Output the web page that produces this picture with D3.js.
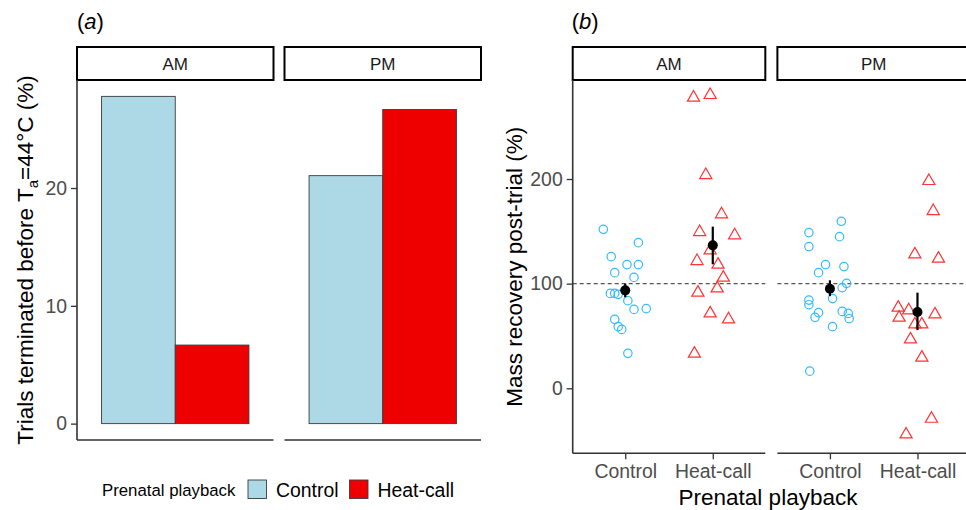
<!DOCTYPE html>
<html>
<head>
<meta charset="utf-8">
<script src="https://cdn.jsdelivr.net/npm/d3@7"></script>
<style>
  body { margin: 0; background: #fff; }
  svg { display: block; font-family: "Liberation Sans", Arial, sans-serif; }
</style>
</head>
<body>
<div id="chart"></div>
<script>
// Facets and groups
const timeOfDay = ["AM", "PM"];
const playback = ["Control", "Heat-call"];

// Panel (a): % of trials terminated before Ta = 44°C
const terminatedAM = [27.78, 6.67];
const terminatedPM = [21.05, 26.67];
const ticksA = [0, 10, 20];

// Panel (b): mass recovery post-trial (%), one value per chick, plus horizontal jitter (in category units)
const amControlMass = [151.9, 139.2, 125.8, 118.2, 118.2, 110.5, 106.0, 90.7, 90.7, 89.8, 83.7, 75.4, 76.1, 65.9, 58.9, 56.3, 33.4];
const amControlJitter = [-0.25, 0.15, -0.16, 0.02, 0.15, -0.12, 0.10, -0.17, -0.12, -0.08, 0.03, 0.10, 0.24, -0.12, -0.08, -0.04, 0.03];
const amHeatMass = [277.8, 280.3, 203.8, 166.3, 149.3, 146.2, 131.8, 121.6, 118.2, 105.7, 95.5, 91.4, 71.6, 65.9, 33.1];
const amHeatJitter = [-0.22, -0.03, -0.08, 0.10, -0.15, 0.25, -0.03, -0.18, 0.06, 0.12, 0.05, -0.17, -0.03, 0.18, -0.21];
const pmControlMass = [159.6, 148.8, 144.9, 135.4, 118.2, 110.5, 116.3, 100.3, 96.2, 85.7, 84.3, 79.9, 72.3, 67.8, 73.5, 71.6, 66.5, 58.9, 16.4];
const pmControlJitter = [0.13, -0.24, 0.11, -0.24, -0.05, -0.13, 0.16, 0.19, 0.14, 0.03, -0.24, -0.24, -0.13, -0.17, 0.14, 0.21, 0.22, 0.03, -0.23];
const pmHeatMass = [198.1, 169.4, 128.0, 123.9, 77.1, 74.5, 67.5, 70.6, 61.1, 61.1, 46.7, 29.3, -29.1, -44.1];
const pmHeatJitter = [0.13, 0.18, -0.03, 0.24, -0.22, -0.10, -0.21, 0.20, -0.03, 0.05, -0.08, 0.05, 0.16, -0.13];

// Means with error bars (AM Control, AM Heat-call, PM Control, PM Heat-call)
const meanMass = [93.6, 136.6, 95.2, 72.9];
const meanLow = [87.0, 118.5, 88.1, 55.6];
const meanHigh = [100.0, 154.5, 103.2, 91.4];
const ticksB = [0, 100, 200];

const fillColors = ["#ADD8E6", "#EE0000"];
const pointColors = ["#33BBFF", "#FF3333"];

const width = 966;
const height = 510;

const svg = d3.select("#chart")
    .append("svg")
    .attr("width", width)
    .attr("height", height);

const stripTop = 47, stripBottom = 80;

// ---------- Panel (a) ----------
const facetA = d3.scaleBand().domain(timeOfDay).range([77, 481]).paddingInner(0.053);
const yA = d3.scaleLinear().domain([-1.39, 29.17]).range([440, 80]);

const barsA = [terminatedAM, terminatedPM];

timeOfDay.forEach((tod, i) => {
    const x0 = facetA(tod);
    const bw = facetA.bandwidth();
    const g = svg.append("g");

    // strip
    g.append("rect")
        .attr("x", x0).attr("y", stripTop)
        .attr("width", bw).attr("height", stripBottom - stripTop)
        .attr("fill", "#fff").attr("stroke", "#000").attr("stroke-width", 2);
    g.append("text")
        .attr("x", x0 + bw / 2).attr("y", (stripTop + stripBottom) / 2 + 6)
        .attr("text-anchor", "middle").attr("font-size", 17).attr("fill", "#1a1a1a")
        .text(tod);

    const dodge = d3.scaleBand().domain(playback).range([x0, x0 + bw]).paddingInner(0).paddingOuter(1 / 3);

    g.selectAll("rect.bar")
        .data(barsA[i])
        .enter()
        .append("rect")
        .attr("class", "bar")
        .attr("x", (d, j) => dodge(playback[j]))
        .attr("width", dodge.bandwidth())
        .attr("y", d => yA(d))
        .attr("height", d => yA(0) - yA(d))
        .attr("fill", (d, j) => fillColors[j])
        .attr("stroke", "#3c3c3c")
        .attr("stroke-width", 0.9);

    // bottom axis line
    g.append("line")
        .attr("x1", x0).attr("x2", x0 + bw)
        .attr("y1", 440).attr("y2", 440)
        .attr("stroke", "#333").attr("stroke-width", 1.6);
});

// y axis for panel (a)
const axisA = svg.append("g")
    .attr("transform", `translate(${facetA("AM")},0)`)
    .call(d3.axisLeft(yA).tickValues(ticksA).tickSize(6).tickPadding(4));
axisA.select(".domain").attr("d", `M0,80V440`).attr("stroke", "#333").attr("stroke-width", 1.6);
axisA.selectAll(".tick line").attr("stroke", "#333").attr("stroke-width", 1.3);
axisA.selectAll(".tick text").attr("font-size", 19.4).attr("fill", "#4d4d4d")
    .attr("font-family", "'Liberation Sans', Arial, sans-serif");

// y title with subscript
const titleA = svg.append("text")
    .attr("transform", `translate(33,260) rotate(-90)`)
    .attr("text-anchor", "middle")
    .attr("font-size", 22.5)
    .attr("fill", "#000");
titleA.append("tspan").text("Trials terminated before T");
titleA.append("tspan").attr("font-size", 15).attr("dy", 5).text("a");
titleA.append("tspan").attr("dy", -5).text("=44°C (%)");

// panel label
const labA = svg.append("text").attr("x", 77).attr("y", 29).attr("font-size", 22);
labA.append("tspan").text("(");
labA.append("tspan").attr("font-style", "italic").text("a");
labA.append("tspan").text(")");

// legend
const legend = svg.append("g");
legend.append("text").attr("x", 102).attr("y", 496).attr("font-size", 16.8).text("Prenatal playback");
const legendX = [248, 349.5];
playback.forEach((p, j) => {
    legend.append("rect")
        .attr("x", legendX[j]).attr("y", 480)
        .attr("width", 18.5).attr("height", 18.5)
        .attr("fill", fillColors[j]).attr("stroke", "#3c3c3c").attr("stroke-width", 0.9);
    legend.append("text")
        .attr("x", legendX[j] + 28).attr("y", 497)
        .attr("font-size", 19.4).text(p);
});

// ---------- Panel (b) ----------
const facetB = d3.scaleBand().domain(timeOfDay).range([572.7, 970]).paddingInner(0.059);
const yB = d3.scaleLinear().domain([-62.1, 294.6]).range([453.3, 80]);

const pointsB = [
    [amControlMass, amControlJitter, amHeatMass, amHeatJitter],
    [pmControlMass, pmControlJitter, pmHeatMass, pmHeatJitter]
];

const triangle = d3.symbol().type(d3.symbolTriangle).size(64);

timeOfDay.forEach((tod, i) => {
    const x0 = facetB(tod);
    const bw = facetB.bandwidth();
    const g = svg.append("g");

    // strip
    g.append("rect")
        .attr("x", x0).attr("y", stripTop)
        .attr("width", bw).attr("height", stripBottom - stripTop)
        .attr("fill", "#fff").attr("stroke", "#000").attr("stroke-width", 2);
    g.append("text")
        .attr("x", x0 + bw / 2).attr("y", (stripTop + stripBottom) / 2 + 6)
        .attr("text-anchor", "middle").attr("font-size", 17).attr("fill", "#1a1a1a")
        .text(tod);

    const xB = d3.scalePoint().domain(playback).range([x0, x0 + bw]).padding(0.6);
    const step = xB.step();

    // reference line at 100 %
    g.append("line")
        .attr("x1", x0).attr("x2", x0 + bw)
        .attr("y1", yB(100)).attr("y2", yB(100))
        .attr("stroke", "#555").attr("stroke-width", 1.2)
        .attr("stroke-dasharray", "4,3");

    const [cMass, cJit, hMass, hJit] = pointsB[i];

    g.selectAll("circle.ctrl")
        .data(cMass)
        .enter()
        .append("circle")
        .attr("class", "ctrl")
        .attr("cx", (d, k) => xB("Control") + cJit[k] * step)
        .attr("cy", d => yB(d))
        .attr("r", 4.2)
        .attr("fill", "none")
        .attr("stroke", pointColors[0])
        .attr("stroke-width", 1.2);

    g.selectAll("path.heat")
        .data(hMass)
        .enter()
        .append("path")
        .attr("class", "heat")
        .attr("d", triangle)
        .attr("transform", (d, k) => `translate(${xB("Heat-call") + hJit[k] * step},${yB(d)})`)
        .attr("fill", "none")
        .attr("stroke", pointColors[1])
        .attr("stroke-width", 1.2);

    // means and error bars
    playback.forEach((p, j) => {
        const idx = i * 2 + j;
        g.append("line")
            .attr("x1", xB(p)).attr("x2", xB(p))
            .attr("y1", yB(meanLow[idx])).attr("y2", yB(meanHigh[idx]))
            .attr("stroke", "#000").attr("stroke-width", 2.2);
        g.append("circle")
            .attr("cx", xB(p)).attr("cy", yB(meanMass[idx]))
            .attr("r", 5).attr("fill", "#000");
    });

    // x axis
    const axisX = g.append("g")
        .attr("transform", `translate(0,453.3)`)
        .call(d3.axisBottom(xB).tickSize(6).tickPadding(5));
    axisX.select(".domain").attr("d", `M${x0},0H${x0 + bw}`).attr("stroke", "#333").attr("stroke-width", 1.6);
    axisX.selectAll(".tick line").attr("stroke", "#333").attr("stroke-width", 1.3);
    axisX.selectAll(".tick text").attr("font-size", 19.4).attr("fill", "#4d4d4d")
        .attr("font-family", "'Liberation Sans', Arial, sans-serif");
});

// y axis for panel (b)
const axisB = svg.append("g")
    .attr("transform", `translate(${facetB("AM")},0)`)
    .call(d3.axisLeft(yB).tickValues(ticksB).tickSize(6).tickPadding(4));
axisB.select(".domain").attr("d", `M0,80V453.3`).attr("stroke", "#333").attr("stroke-width", 1.6);
axisB.selectAll(".tick line").attr("stroke", "#333").attr("stroke-width", 1.3);
axisB.selectAll(".tick text").attr("font-size", 19.4).attr("fill", "#4d4d4d")
    .attr("font-family", "'Liberation Sans', Arial, sans-serif");

svg.append("text")
    .attr("transform", `translate(522,266.7) rotate(-90)`)
    .attr("text-anchor", "middle")
    .attr("font-size", 22.5)
    .text("Mass recovery post-trial (%)");

svg.append("text")
    .attr("x", 768).attr("y", 505)
    .attr("text-anchor", "middle")
    .attr("font-size", 22.5)
    .text("Prenatal playback");

const labB = svg.append("text").attr("x", 571.7).attr("y", 29).attr("font-size", 22);
labB.append("tspan").text("(");
labB.append("tspan").attr("font-style", "italic").text("b");
labB.append("tspan").text(")");
</script>
</body>
</html>
